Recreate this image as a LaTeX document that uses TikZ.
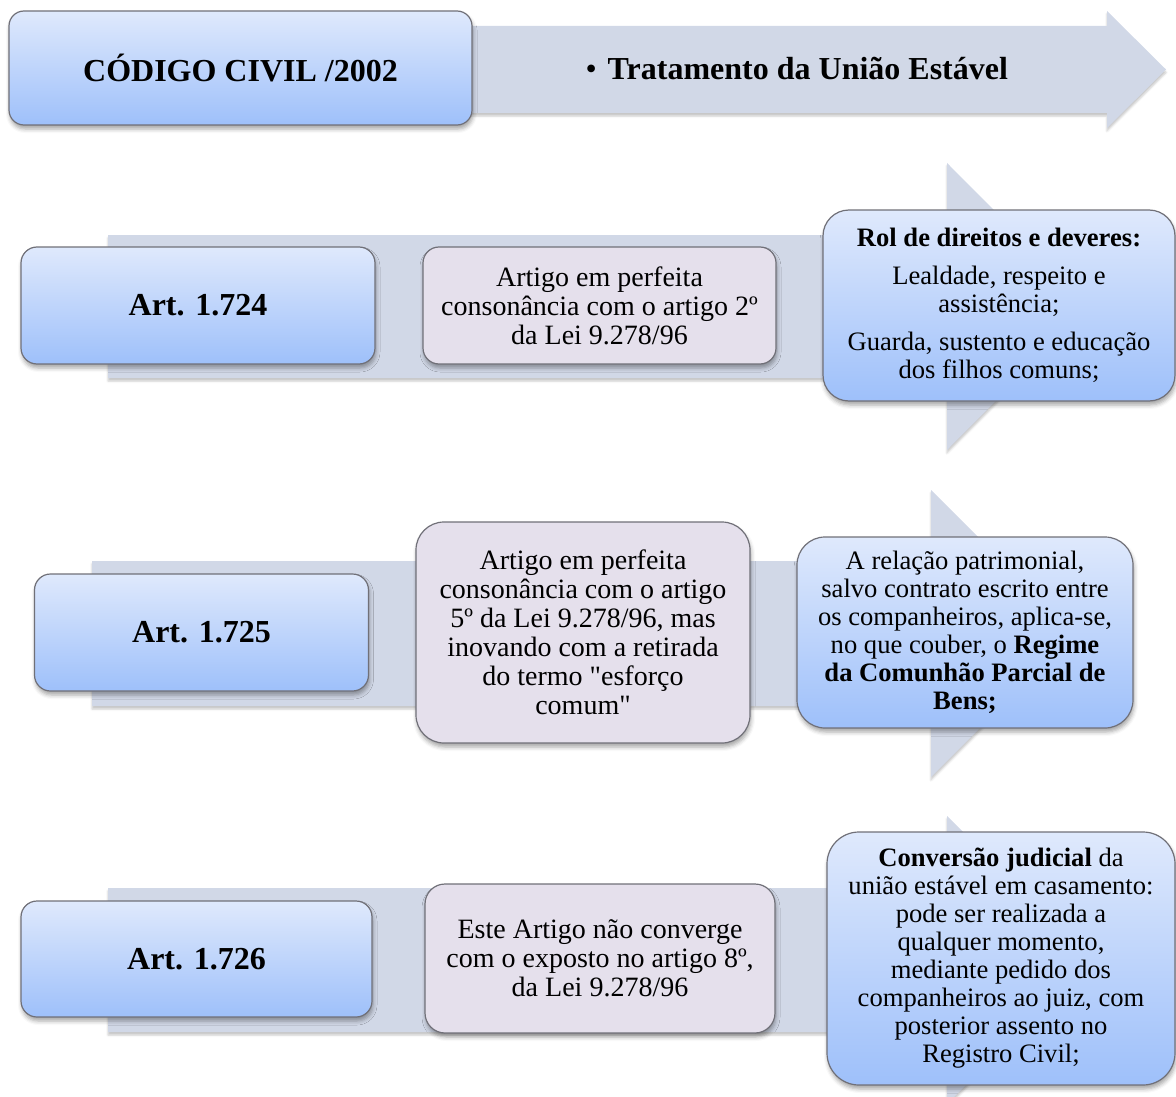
\documentclass[tikz,border=0pt]{standalone}
\usepackage{fontspec}
\setmainfont{Liberation Serif}
% same face without the TeX input mapping, for straight double quotes
\newfontfamily\rawserif{Liberation Serif}
\usetikzlibrary{shadows.blur}

\definecolor{bandfill}{RGB}{209,216,231}
\definecolor{bluetop}{RGB}{223,233,252}
\definecolor{bluebot}{RGB}{158,192,250}
\definecolor{lilac}{RGB}{229,224,236}
\definecolor{edgegrey}{RGB}{112,112,120}

\newcommand{\sq}{{\rawserif"}}

\tikzset{
  softshadow/.style={blur shadow={shadow xshift=1pt, shadow yshift=-4pt,
      shadow blur radius=4pt, shadow opacity=35}},
  bluebox/.style={draw=edgegrey, line width=1.2pt, top color=bluetop,
      bottom color=bluebot, align=center, inner sep=0pt, softshadow},
  lilacbox/.style={draw=edgegrey, line width=1.2pt, fill=lilac,
      align=center, inner sep=0pt, softshadow},
  band/.style={fill=bandfill, blur shadow={shadow xshift=0pt,
      shadow yshift=-3pt, shadow blur radius=2pt, shadow opacity=22}},
  titletext/.style={font=\fontsize{32}{34}\selectfont\bfseries},
  midtext/.style={font=\fontsize{28}{29}\selectfont},
  sidetext/.style={font=\fontsize{26.6}{28}\selectfont},
}

\begin{document}
\begin{tikzpicture}[x=1pt, y=-1pt]
\useasboundingbox (0,0) rectangle (1176,1097);

% ---- header band and box
\path[band] (300,26) -- (1107,26) -- (1107,11) -- (1166,69.5)
  -- (1107,128) -- (1107,113) -- (300,113) -- cycle;
\node[bluebox, titletext, rounded corners=15pt, minimum width=463pt,
  minimum height=114pt] (head) at (240.5,68) {CÓDIGO CIVIL /2002};
\node[titletext, anchor=west] (headlabel) at (582,69)
  {{\mdseries •}\hspace{11pt}Tratamento da União Estável};

% ---- row 1
\path[band] (108,235) -- (947,235) -- (947,163) -- (1090,306.5)
  -- (947,450) -- (947,378) -- (108,378) -- cycle;
\node[bluebox, titletext, rounded corners=16pt, minimum width=354pt,
  minimum height=117pt] (art1) at (198,305.5) {Art. 1.724};
\node[lilacbox, midtext, rounded corners=16pt, minimum width=353pt,
  minimum height=117pt] (mid1) at (599.5,305.5)
  {Artigo em perfeita\\consonância com o artigo 2º\\da Lei 9.278/96};
\node[bluebox, sidetext, rounded corners=26pt, minimum width=352pt,
  minimum height=191pt] (side1) at (999,305.5)
  {\textbf{Rol de direitos e deveres:}\\[10pt]Lealdade, respeito e\\assistência;\\[10pt]Guarda, sustento e educação\\dos filhos comuns;};

% ---- row 2
\path[band] (92,561) -- (931,561) -- (931,490) -- (1074.5,633.5)
  -- (931,777) -- (931,706) -- (92,706) -- cycle;
\node[bluebox, titletext, rounded corners=16pt, minimum width=334pt,
  minimum height=117pt] (art2) at (201.5,632.5) {Art. 1.725};
\node[lilacbox, midtext, rounded corners=28pt, minimum width=334pt,
  minimum height=221pt] (mid2) at (583,632.5)
  {Artigo em perfeita\\consonância com o artigo\\5º da Lei 9.278/96, mas\\inovando com a retirada\\do termo \sq esforço\\comum\sq};
\node[bluebox, sidetext, rounded corners=28pt, minimum width=336pt,
  minimum height=191pt] (side2) at (965,632.5)
  {A relação patrimonial,\\salvo contrato escrito entre\\os companheiros, aplica-se,\\no que couber, o \textbf{Regime}\\\textbf{da Comunhão Parcial de}\\\textbf{Bens;}};

% ---- row 3
\path[band] (108,888) -- (947,888) -- (947,816) -- (1091,960)
  -- (947,1104) -- (947,1032) -- (108,1032) -- cycle;
\node[bluebox, titletext, rounded corners=16pt, minimum width=351pt,
  minimum height=116pt] (art3) at (196.5,959) {Art. 1.726};
\node[lilacbox, midtext, rounded corners=20pt, minimum width=350pt,
  minimum height=149pt] (mid3) at (600,958.5)
  {Este Artigo não converge\\com o exposto no artigo 8º,\\da Lei 9.278/96};
\node[bluebox, sidetext, rounded corners=32pt, minimum width=348pt,
  minimum height=253pt] (side3) at (1001,958.5)
  {\textbf{Conversão judicial} da\\união estável em casamento:\\pode ser realizada a\\qualquer momento,\\mediante pedido dos\\companheiros ao juiz, com\\posterior assento no\\Registro Civil;};
\end{tikzpicture}
\end{document}
